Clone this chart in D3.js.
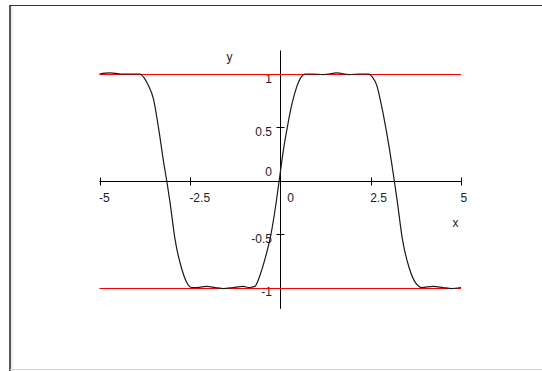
<!DOCTYPE html>
<html>
<head>
<meta charset="utf-8">
<script src="https://cdnjs.cloudflare.com/ajax/libs/d3/7.8.5/d3.min.js"></script>
<style>
  body { margin: 0; background: #fff; }
  svg text { font-family: "Liberation Sans", Arial, sans-serif; font-size: 12px; fill: #222; }
</style>
</head>
<body>
<svg width="542" height="371"></svg>
<script>
// curve (x, y)
var xs = [-5, -4.71, -4.4, -4.1, -3.88, -3.78, -3.65, -3.51, -3.35, -3.22, -3.14, -3.05, -2.91, -2.73, -2.59, -2.45,
          -2.3, -2.03, -1.8, -1.57, -1.3, -1.03, -0.85, -0.7, -0.56, -0.42, -0.256, -0.12, -0.03, 0.084, 0.195,
          0.317, 0.41, 0.5, 0.6, 0.69, 0.9, 1.2, 1.57, 1.9, 2.2, 2.44, 2.55, 2.67, 2.76, 2.94, 3.08, 3.155,
          3.24, 3.38, 3.57, 3.73, 3.84, 3.91, 4.23, 4.5, 4.74, 5];
var ys = [1, 1.01, 1, 1, 1, 0.97, 0.894, 0.77, 0.457, 0.16, 0, -0.2, -0.55, -0.82, -0.95, -1,
          -1, -0.99, -1, -1.01, -1, -0.99, -1, -0.99, -0.885, -0.73, -0.5, -0.22, 0, 0.28, 0.5,
          0.71, 0.83, 0.92, 0.98, 1, 1, 0.995, 1.01, 0.995, 1, 1, 0.97, 0.894, 0.77, 0.457, 0.17, 0,
          -0.2, -0.55, -0.82, -0.95, -0.99, -1, -0.99, -1, -1.01, -1];

// horizontal reference lines
var refLines = [1, -1];

var xTicks = [-5, -2.5, 0, 2.5, 5];
var xTickLabels = ["-5", "-2.5", "0", "2.5", "5"];
var yTicks = [1, 0.5, 0, -0.5, -1];
var yTickLabels = ["1", "0.5", "0", "-0.5", "-1"];

var svg = d3.select("svg");

// frame
svg.append("line").attr("x1", 10).attr("y1", 5.5).attr("x2", 542).attr("y2", 5.5)
    .attr("stroke", "#333").attr("stroke-width", 1.2);
svg.append("line").attr("x1", 10).attr("y1", 5).attr("x2", 10).attr("y2", 371)
    .attr("stroke", "#222").attr("stroke-width", 1.5);
svg.append("line").attr("x1", 12).attr("y1", 6).attr("x2", 12).attr("y2", 371)
    .attr("stroke", "#ddd").attr("stroke-width", 1);
svg.append("line").attr("x1", 10).attr("y1", 369.5).attr("x2", 542).attr("y2", 369.5)
    .attr("stroke", "#d4d4d4").attr("stroke-width", 1);

var x = d3.scaleLinear().domain([-5, 5]).range([99.5, 461]);
var y = d3.scaleLinear().domain([-1, 1]).range([287.5, 74]);

// axes through origin
svg.append("line")
    .attr("x1", x(-5)).attr("x2", x(5))
    .attr("y1", Math.round(y(0)) + 0.5).attr("y2", Math.round(y(0)) + 0.5)
    .attr("stroke", "#000");
svg.append("line")
    .attr("x1", Math.round(x(0)) + 0.5).attr("x2", Math.round(x(0)) + 0.5)
    .attr("y1", y(1.22)).attr("y2", y(-1.2))
    .attr("stroke", "#000");

var y0 = Math.round(y(0)) + 0.5;
var x0 = Math.round(x(0)) + 0.5;

svg.selectAll(".xtick").data(xTicks).enter().append("line")
    .attr("class", "xtick")
    .attr("x1", function(d) { return Math.round(x(d)) + 0.5; })
    .attr("x2", function(d) { return Math.round(x(d)) + 0.5; })
    .attr("y1", y0 - 4).attr("y2", y0 + 4)
    .attr("stroke", "#000");

svg.selectAll(".xlabel").data(xTicks).enter().append("text")
    .attr("class", "xlabel")
    .attr("x", function(d) { return x(d) + (d === 0 ? 7 : -0.5); })
    .attr("y", y0 + 20)
    .text(function(d, i) { return xTickLabels[i]; });

svg.selectAll(".ytick").data(yTicks.filter(function(d) { return d !== 0; })).enter().append("line")
    .attr("class", "ytick")
    .attr("x1", x0 - 4).attr("x2", x0 + 4)
    .attr("y1", function(d) { return Math.round(y(d)) + 0.5; })
    .attr("y2", function(d) { return Math.round(y(d)) + 0.5; })
    .attr("stroke", "#000");

svg.selectAll(".ylabel").data(yTicks).enter().append("text")
    .attr("class", "ylabel")
    .attr("text-anchor", "end")
    .attr("x", x0 - 8.5)
    .attr("y", function(d) { return d === 0 ? y(d) - 4.5 : y(d) + 8.5; })
    .text(function(d, i) { return yTickLabels[i]; });

// axis names
svg.append("text").attr("x", 455.5).attr("y", 227).attr("text-anchor", "middle").text("x");
svg.append("text").attr("x", 229.5).attr("y", 61).attr("text-anchor", "middle").text("y");

// red reference lines
svg.selectAll(".ref").data(refLines).enter().append("line")
    .attr("class", "ref")
    .attr("x1", x(-5)).attr("x2", x(5))
    .attr("y1", function(d) { return Math.round(y(d)) + 0.5; })
    .attr("y2", function(d) { return Math.round(y(d)) + 0.5; })
    .attr("stroke", "#ff0000").attr("stroke-width", 1);

// the curve
var pts = xs.map(function(v, i) { return [v, ys[i]]; });
var line = d3.line()
    .x(function(d) { return x(d[0]); })
    .y(function(d) { return y(d[1]); })
    .curve(d3.curveMonotoneX);

svg.append("path")
    .datum(pts)
    .attr("d", line)
    .attr("fill", "none")
    .attr("stroke", "#1a1a1a")
    .attr("stroke-width", 1.2);
</script>
</body>
</html>
